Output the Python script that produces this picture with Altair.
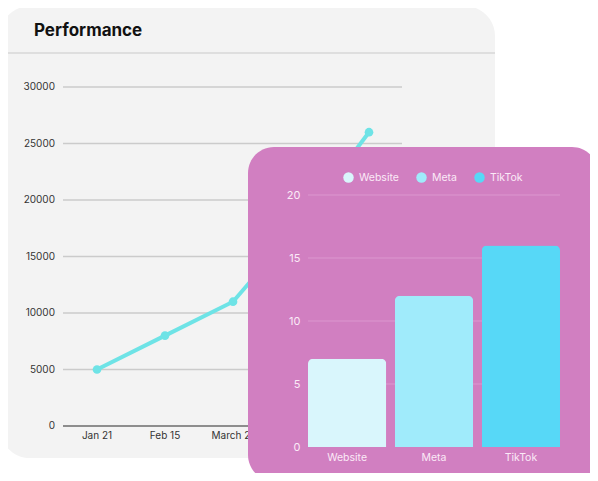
import altair as alt
import pandas as pd

# ---------------- data ----------------
line_dates = ["Jan 21", "Feb 15", "March 21", "April 15", "May 21"]
line_values = [5000, 8000, 11000, 18000, 26000]
line_ticks = [0, 5000, 10000, 15000, 20000, 25000, 30000]

bar_cats = ["Website", "Meta", "TikTok"]
bar_values = [7, 12, 16]
bar_colors = ["#D9F6FC", "#A0EBFB", "#57D8F7"]
bar_ticks = [5, 10, 15, 20]
bar_axis_ticks = [0, 5, 10, 15, 20]

FONT = "Inter"
LINE_COLOR = "#6EE3E6"
PINK = "#D17FC1"
LIGHT = "#FBEAF7"

line_df = pd.DataFrame({"date": line_dates, "value": line_values})
line_tick_df = pd.DataFrame({"tick": line_ticks})
line_tick_df["zero"] = line_tick_df["tick"] == 0
bar_df = pd.DataFrame({"cat": bar_cats, "value": bar_values})
bar_tick_df = pd.DataFrame({"tick": bar_ticks})
one = alt.Data(values=[{"a": 1}])

no_view = alt.ViewBackground(stroke="transparent", strokeWidth=0, fill="transparent")

# ---------------- line card ----------------
lx = alt.Scale(type="point", domain=line_dates, range=[55, 395], padding=0.5)
ly = alt.Scale(domain=[0, 30000], range=[418, 79], nice=False, zero=True)

gray_card = alt.Chart(one).mark_rect(fill="#F3F3F3", cornerRadius=30).encode(
    x=alt.value(-8), x2=alt.value(487), y=alt.value(-2), y2=alt.value(450)
)
separator = alt.Chart(one).mark_rule(color="#D7D7D7", strokeWidth=1.5).encode(
    x=alt.value(-8), x2=alt.value(487), y=alt.value(45)
)
title = alt.Chart(one).mark_text(
    text="Performance", align="left", baseline="middle",
    fontSize=17, fontWeight="bold", color="#111111", font=FONT
).encode(x=alt.value(26), y=alt.value(23))

line_grid = alt.Chart(line_tick_df).mark_rule().encode(
    x=alt.value(55), x2=alt.value(394),
    y=alt.Y("tick:Q", scale=ly, axis=None),
    color=alt.condition("datum.zero", alt.value("#6B6B6B"), alt.value("#CBCBCB")),
    strokeWidth=alt.condition("datum.zero", alt.value(1.6), alt.value(1.3)),
)
line_ylabels = alt.Chart(line_tick_df).mark_text(
    align="right", baseline="middle", fontSize=10, color="#333333", font=FONT
).encode(
    x=alt.value(47),
    y=alt.Y("tick:Q", scale=ly, axis=None),
    text=alt.Text("tick:Q", format="d"),
)
line_xlabels = alt.Chart(line_df).mark_text(
    align="center", baseline="middle", fontSize=10, color="#333333", font=FONT
).encode(
    x=alt.X("date:N", scale=lx, axis=None, sort=line_dates),
    y=alt.value(428),
    text="date:N",
)
line = alt.Chart(line_df).mark_line(color=LINE_COLOR, strokeWidth=4).encode(
    x=alt.X("date:N", scale=lx, axis=None, sort=line_dates),
    y=alt.Y("value:Q", scale=ly, axis=None),
)
points = alt.Chart(line_df).mark_circle(color=LINE_COLOR, size=75, opacity=1).encode(
    x=alt.X("date:N", scale=lx, axis=None, sort=line_dates),
    y=alt.Y("value:Q", scale=ly, axis=None),
)

line_group = alt.layer(
    gray_card, separator, title, line_grid, line_ylabels, line_xlabels, line, points
)

# ---------------- bar card ----------------
bx = alt.Scale(domain=bar_cats, range=[300, 552], paddingInner=0.1, paddingOuter=0)
by = alt.Scale(domain=[0, 20], range=[439, 187], nice=False)

bar_x_axis = alt.Axis(
    title=None, orient="bottom", offset=-26, domain=False, ticks=False, tickSize=0,
    grid=False, labelPadding=5, labelFontSize=10.5, labelColor=LIGHT, labelFont=FONT,
    zindex=1, labelAngle=0,
)
bar_y_axis = alt.Axis(
    title=None, orient="left", offset=-292, domain=False, ticks=False, tickSize=0,
    grid=False, labelPadding=0, labelFontSize=11, labelColor=LIGHT, labelFont=FONT,
    values=bar_axis_ticks, zindex=1,
)

pink_card = alt.Chart(one).mark_rect(fill=PINK, cornerRadius=26).encode(
    x=alt.value(240), x2=alt.value(590), y=alt.value(139), y2=alt.value(473)
)
bar_grid = alt.Chart(bar_tick_df).mark_rule(color="#DC98CF", strokeWidth=1).encode(
    x=alt.value(300), x2=alt.value(552),
    y=alt.Y("tick:Q", scale=by, axis=bar_y_axis),
)
bars = alt.Chart(bar_df).mark_bar(cornerRadiusTopLeft=5, cornerRadiusTopRight=5).encode(
    x=alt.X("cat:N", scale=bx, axis=bar_x_axis, sort=bar_cats),
    y=alt.Y("value:Q", scale=by, axis=bar_y_axis),
    color=alt.Color(
        "cat:N",
        scale=alt.Scale(domain=bar_cats, range=bar_colors),
        legend=alt.Legend(
            title=None, orient="none", legendX=335, legendY=164, direction="horizontal",
            symbolType="circle", symbolSize=110, symbolOpacity=1, symbolStrokeWidth=0,
            labelColor=LIGHT, labelFontSize=10.5, labelFont=FONT, labelOffset=5,
            columnPadding=17, padding=0,
        ),
    ),
)

bar_group = alt.layer(pink_card, bar_grid, bars)

chart = (
    alt.layer(line_group, bar_group)
    .resolve_scale(x="independent", y="independent", color="independent")
    .resolve_axis(x="independent", y="independent")
    .properties(width=582, height=465, padding=0,
                autosize=alt.AutoSizeParams(type="none"), view=no_view)
    .configure_view(stroke="transparent", strokeWidth=0)
    .configure(font=FONT, background="white")
)

chart.save("out.html", embed_options={"renderer": "svg", "actions": False})
